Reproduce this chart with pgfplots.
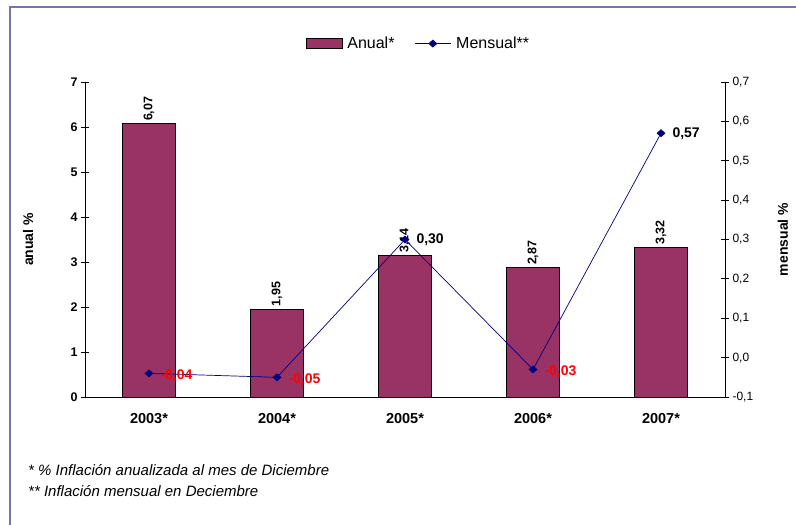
\documentclass[border=0pt]{standalone}
\usepackage{fontspec}
\setmainfont{Liberation Sans}
\usepackage{pgfplots}
\pgfplotsset{compat=1.18}
\usepackage{pgfplotstable}
\definecolor{barcol}{RGB}{153,51,102}
\definecolor{navyc}{RGB}{0,0,128}
\definecolor{framec}{RGB}{118,118,170}
\pgfplotsset{/pgf/number format/assume math mode=true}
\pgfplotstableread{
x y
0 6.07
1 1.95
2 3.14
3 2.87
4 3.32
}\anual
\pgfplotstableread{
x y
0 -0.04
1 -0.05
2 0.30
3 -0.03
4 0.57
}\mensual
\pgfplotstableread{
x y lab
0 -0.04 {-0,04}
1 -0.05 {-0,05}
3 -0.03 {-0,03}
}\neglab
\pgfplotstableread{
x y lab
2 0.30 {0,30}
4 0.57 {0,57}
}\poslab
\begin{document}
\begin{tikzpicture}
\path[use as bounding box] (0pt,0pt) rectangle (796pt,-525pt);
\draw[framec, line width=1.6pt] (10pt,-525pt) -- (10pt,-7pt) -- (796pt,-7pt);
\coordinate (O) at (85pt,-397pt);
\begin{axis}[
  at={(O)}, anchor=south west,
  scale only axis, width=640pt, height=315pt,
  xmin=-0.5, xmax=4.5, ymin=0, ymax=7,
  axis y line*=left, axis x line*=bottom,
  axis line style={black, line width=0.8pt, -},
  xtick={0,1,2,3,4},
  xticklabels={2003*,2004*,2005*,2006*,2007*},
  major x tick style={draw=none},
  extra x ticks={0.5,1.5,2.5,3.5},
  extra x tick labels={},
  extra x tick style={major tick length=8pt, tick style={black, line width=0.8pt}},
  xticklabel style={font=\fontsize{14.5}{16}\selectfont\bfseries, yshift=-5pt},
  ytick={0,1,...,7},
  yticklabel style={font=\fontsize{12.5}{14}\selectfont\bfseries},
  tick align=center, major tick length=8pt,
  tick style={black, line width=0.8pt},
  ylabel={anual \%},
  ylabel style={font=\fontsize{14}{16}\selectfont\bfseries},
  every axis y label/.append style={at={(axis description cs:-0.089,0.5)}, anchor=center},
  ybar, bar width=53pt,
]
\addplot[fill=barcol, draw=black, line width=0.8pt,
  nodes near coords={\pgfmathprintnumber[fixed,fixed zerofill,precision=2,use comma]{\pgfplotspointmeta}},
  nodes near coords style={rotate=90, anchor=west, font=\fontsize{12.5}{14}\selectfont\bfseries, black, inner sep=2.5pt}]
  table[x=x,y=y]{\anual};
\end{axis}
\begin{axis}[
  at={(O)}, anchor=south west,
  scale only axis, width=640pt, height=315pt,
  xmin=-0.5, xmax=4.5, ymin=-0.1, ymax=0.7,
  axis x line=none, axis y line*=right,
  axis line style={black, line width=0.8pt, -},
  ytick={-0.1,0,0.1,0.2,0.3,0.4,0.5,0.6,0.7},
  yticklabel style={font=\fontsize{12}{14}\selectfont,
    /pgf/number format/.cd, fixed, fixed zerofill, precision=1, use comma},
  tick align=center, major tick length=8pt,
  tick style={black, line width=0.8pt},
  ylabel={mensual \%},
  ylabel style={font=\fontsize{14}{16}\selectfont\bfseries},
  every axis y label/.append style={at={(axis description cs:1.0906,0.5)}, anchor=center},
  legend style={at={(axis description cs:0.521,1.122)}, anchor=center, draw=none, fill=none,
    legend columns=2, font=\fontsize{16}{18}\selectfont,
    /tikz/every even column/.append style={column sep=18pt}},
]
\addlegendimage{legend image code/.code={\draw[fill=barcol, draw=black, line width=0.8pt] (0pt,-5pt) rectangle (36pt,5pt); \path (39pt,0pt);}}
\addlegendentry{Anual*}
\addplot[navyc, line width=0.7pt, mark=diamond*, mark size=3.5pt, mark options={fill=navyc, xscale=1.5},
  legend image code/.code={\draw[navyc, line width=0.7pt] (0pt,0pt) -- (36pt,0pt);
     \fill[navyc] (18pt,3.5pt) -- (22pt,0pt) -- (18pt,-3.5pt) -- (14pt,0pt) -- cycle; \path (39pt,0pt);}]
  table[x=x,y=y]{\mensual};
\addlegendentry{Mensual**}
\addplot[only marks, mark=none, forget plot, nodes near coords, point meta=explicit symbolic,
  nodes near coords style={anchor=west, xshift=8pt, yshift=-2pt, red, font=\fontsize{14}{16}\selectfont\bfseries}]
  table[x=x,y=y,meta=lab]{\neglab};
\addplot[only marks, mark=none, forget plot, nodes near coords, point meta=explicit symbolic,
  nodes near coords style={anchor=west, xshift=8pt, yshift=0pt, black, font=\fontsize{14}{16}\selectfont\bfseries}]
  table[x=x,y=y,meta=lab]{\poslab};
\end{axis}
\node[anchor=west, font=\fontsize{15}{17}\selectfont\itshape, inner sep=0pt] at (28pt,-470pt) {* \% Inflación anualizada al mes de Diciembre};
\node[anchor=west, font=\fontsize{15}{17}\selectfont\itshape, inner sep=0pt] at (28pt,-491pt) {** Inflación mensual en Deciembre};
\end{tikzpicture}
\end{document}
